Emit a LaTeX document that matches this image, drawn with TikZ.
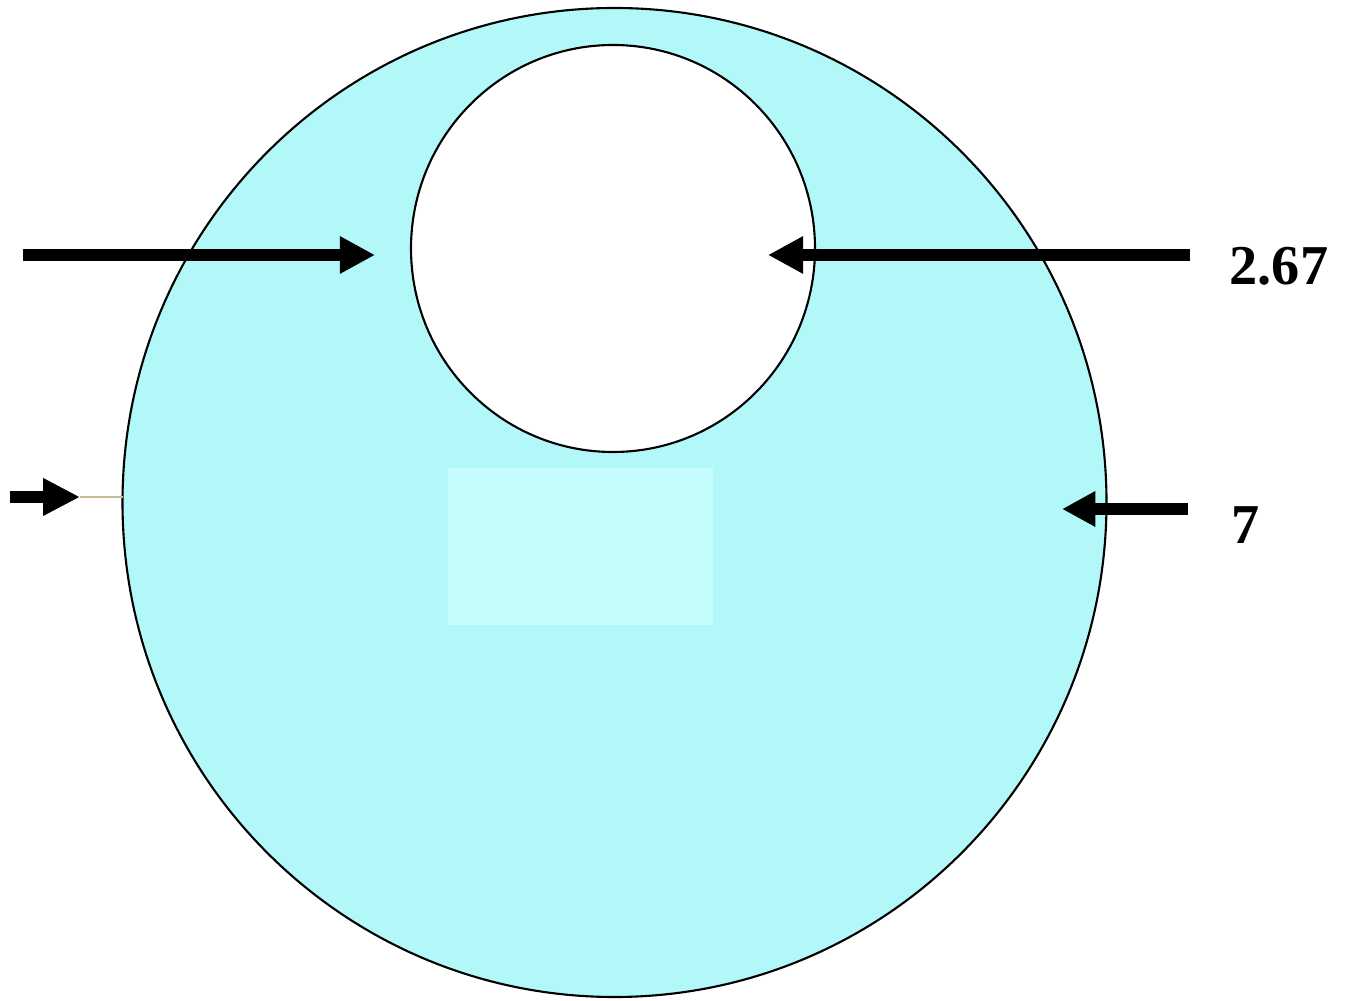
\documentclass[tikz,border=0pt]{standalone}
\usepackage{fontspec}
\setmainfont{Liberation Serif}
\usetikzlibrary{arrows.meta}
\definecolor{disc}{HTML}{B3F8F8}
\definecolor{patch}{HTML}{C5FCFC}
\definecolor{tan}{HTML}{C8BC98}
\begin{document}
\begin{tikzpicture}[x=0.01cm,y=-0.01cm,
  outline/.style={draw=black,line width=0.6pt},
  bigarrow/.style={line width=3.4pt,-{Triangle[length=10pt,width=10pt]}},
  lbl/.style={font=\fontsize{16}{19}\selectfont\bfseries,inner sep=0pt}]
\useasboundingbox (0,0) rectangle (1352,1001);
\fill[white] (0,0) rectangle (1352,1001);
% outer disc
\path[outline,fill=disc] (614.5,502.5) ellipse [x radius=492,y radius=494.5];
\coordinate (outerL) at (122.5,497);
% lighter patch
\fill[patch] (448,468) rectangle (713,625);
% hole
\path[outline,fill=white] (613,248.5) ellipse [x radius=202,y radius=203.5];
\coordinate (holeL) at (375,255);
\coordinate (holeR) at (768,255);
% top arrows
\coordinate (tailA) at (23,255);
\coordinate (tailB) at (1190,255);
\draw[bigarrow] (tailA) -- (holeL);
\draw[bigarrow] (tailB) -- (holeR);
\node[lbl] (lab1) at (1279,266) {2.67};
% bottom arrows
\coordinate (tailC) at (10,497);
\coordinate (tipC) at (80,497);
\draw[line width=3.4pt,-{Triangle[length=10.5pt,width=10pt]}] (tailC) -- (tipC);
\draw[tan,line width=0.6pt] (tipC) -- (outerL);
\coordinate (tailD) at (1188,509);
\coordinate (tipD) at (1062,509);
\draw[line width=3.4pt,-{Triangle[length=9.5pt,width=9.5pt]}] (tailD) -- (tipD);
\node[lbl] (lab2) at (1246,525) {7};
\end{tikzpicture}
\end{document}
